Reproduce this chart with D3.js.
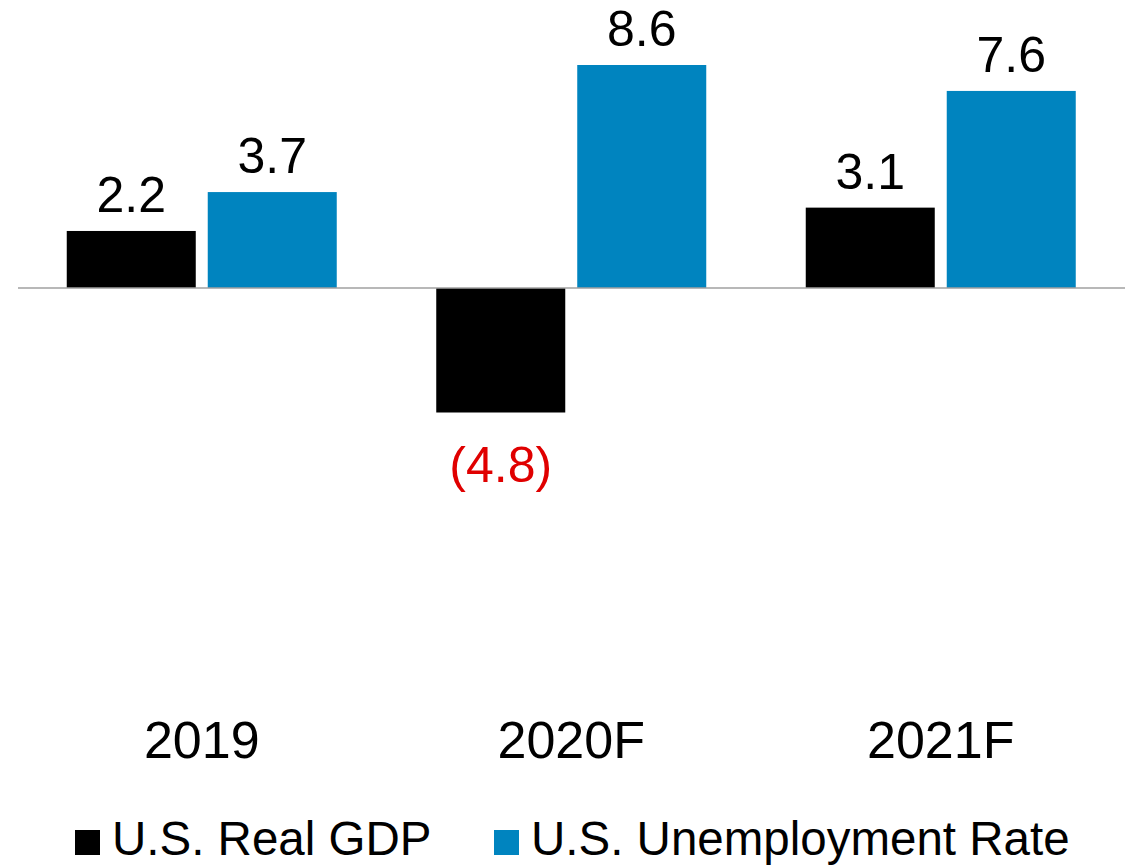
<!DOCTYPE html>
<html>
<head>
<meta charset="utf-8">
<script src="https://cdn.jsdelivr.net/npm/d3@7"></script>
<style>
  html, body { margin: 0; padding: 0; background: #fff; }
  svg { display: block; font-family: "Liberation Sans", Arial, sans-serif; }
</style>
</head>
<body>
<svg id="chart" width="1133" height="868"></svg>
<script>
const categories = ["2019", "2020F", "2021F"];
const seriesNames = ["U.S. Real GDP", "U.S. Unemployment Rate"];
const gdpValues = [2.2, -4.8, 3.1];
const unemploymentValues = [3.7, 8.6, 7.6];
const seriesColors = ["#000000", "#0084BF"];
const negativeColor = "#E00000";

const seriesValues = [gdpValues, unemploymentValues];
const data = categories.map((c, i) => ({
  category: c,
  values: seriesNames.map((s, j) => ({ series: s, value: seriesValues[j][i], color: seriesColors[j] }))
}));

const svg = d3.select("#chart");

const x = d3.scaleBand().domain(categories).range([17, 1125.5]).padding(0);
const groupHalf = 135;
const x1 = d3.scaleBand().domain(seriesNames)
  .range([x.bandwidth() / 2 - groupHalf, x.bandwidth() / 2 + groupHalf])
  .paddingInner(0.085).paddingOuter(0);

const y = d3.scaleLinear().domain([-4.8, 8.6]).range([412.5, 65]);

const fmt = v => v < 0 ? "(" + d3.format(".1f")(-v) + ")" : d3.format(".1f")(v);

const groups = svg.append("g").selectAll("g")
  .data(data).join("g")
  .attr("transform", d => `translate(${x(d.category)},0)`);

groups.selectAll("rect")
  .data(d => d.values).join("rect")
  .attr("x", d => x1(d.series))
  .attr("width", x1.bandwidth())
  .attr("y", d => Math.min(y(d.value), y(0)))
  .attr("height", d => Math.abs(y(d.value) - y(0)))
  .attr("fill", d => d.color);

groups.selectAll("text.val")
  .data(d => d.values).join("text")
  .attr("class", "val")
  .attr("x", d => x1(d.series) + x1.bandwidth() / 2)
  .attr("y", d => d.value >= 0 ? y(d.value) - 19 : y(d.value) + 69)
  .attr("text-anchor", "middle")
  .attr("font-size", 50)
  .attr("fill", d => d.value < 0 ? negativeColor : "#000")
  .text(d => fmt(d.value));

// zero baseline
svg.append("line")
  .attr("x1", 18).attr("x2", 1125)
  .attr("y1", y(0)).attr("y2", y(0))
  .attr("stroke", "#a0a0a0").attr("stroke-width", 1.5);

// category labels
const xAxis = d3.axisBottom(x).tickSize(0).tickPadding(0);
const axisG = svg.append("g").attr("transform", "translate(0,720)").call(xAxis);
axisG.select(".domain").remove();
axisG.selectAll("text")
  .attr("font-size", 52)
  .attr("font-family", "'Liberation Sans', Arial, sans-serif")
  .attr("fill", "#000")
  .attr("dy", null)
  .attr("y", 38);

// legend
const legendItems = [
  { name: seriesNames[0], color: seriesColors[0], x: 75 },
  { name: seriesNames[1], color: seriesColors[1], x: 494 }
];
const lg = svg.append("g").selectAll("g").data(legendItems).join("g")
  .attr("transform", d => `translate(${d.x},0)`);
lg.append("rect").attr("x", 0).attr("y", 830).attr("width", 25).attr("height", 25)
  .attr("fill", d => d.color);
lg.append("text").attr("x", 37).attr("y", 855)
  .attr("font-size", 47.5).attr("fill", "#000")
  .text(d => d.name);
</script>
</body>
</html>
